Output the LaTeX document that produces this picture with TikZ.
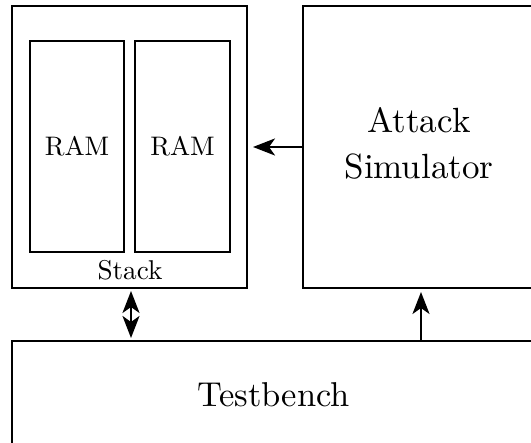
\documentclass[tikz,border=0pt]{standalone}
\usepackage{graphicx}
\usetikzlibrary{arrows.meta}
\tikzset{
  blk/.style={draw, line width=2pt, inner sep=0pt, anchor=center},
  headtip/.tip={Stealth[length=22pt, width=17pt, inset=6pt]},
  conn/.style={line width=2.6pt, -headtip},
  bothconn/.style={line width=2.6pt, headtip-headtip}
}
\begin{document}
\begin{tikzpicture}[x=1pt, y=1pt]
  \useasboundingbox (0,0) rectangle (531,443);
  \clip (0,0) rectangle (531,443);

  % memory stack with its two RAM banks
  \node[blk, minimum width=235pt, minimum height=282pt] (stack) at (129.5,296) {};
  \node[blk, minimum width=94pt, minimum height=211pt] (ram1) at (77,296.5)
    {\scalebox{2.68}{RAM}};
  \node[blk, minimum width=95pt, minimum height=211pt] (ram2) at (182.5,296.5)
    {\scalebox{2.68}{RAM}};
  \node (stacklbl) at (130,173) {\scalebox{2.72}{Stack}};

  % attack simulator
  \node[blk, minimum width=232pt, minimum height=282pt] (attack) at (419,296)
    {\scalebox{3.5}{\begin{tabular}{@{}c@{}}Attack\\[1.1pt]Simulator\end{tabular}}};

  % testbench
  \node[blk, minimum width=523pt, minimum height=108pt] (tb) at (273.5,48)
    {\scalebox{3.45}{Testbench}};

  % connections
  \draw[conn, shorten >=5pt] (attack.west) -- (stack.east);
  \draw[bothconn, shorten <=2pt, shorten >=2pt]
    ([xshift=1.5pt]stack.south) -- ([xshift=1.5pt]stack.south |- tb.north);
  \draw[conn, shorten >=3pt]
    ([xshift=2pt]attack.south |- tb.north) -- ([xshift=2pt]attack.south);
\end{tikzpicture}
\end{document}
